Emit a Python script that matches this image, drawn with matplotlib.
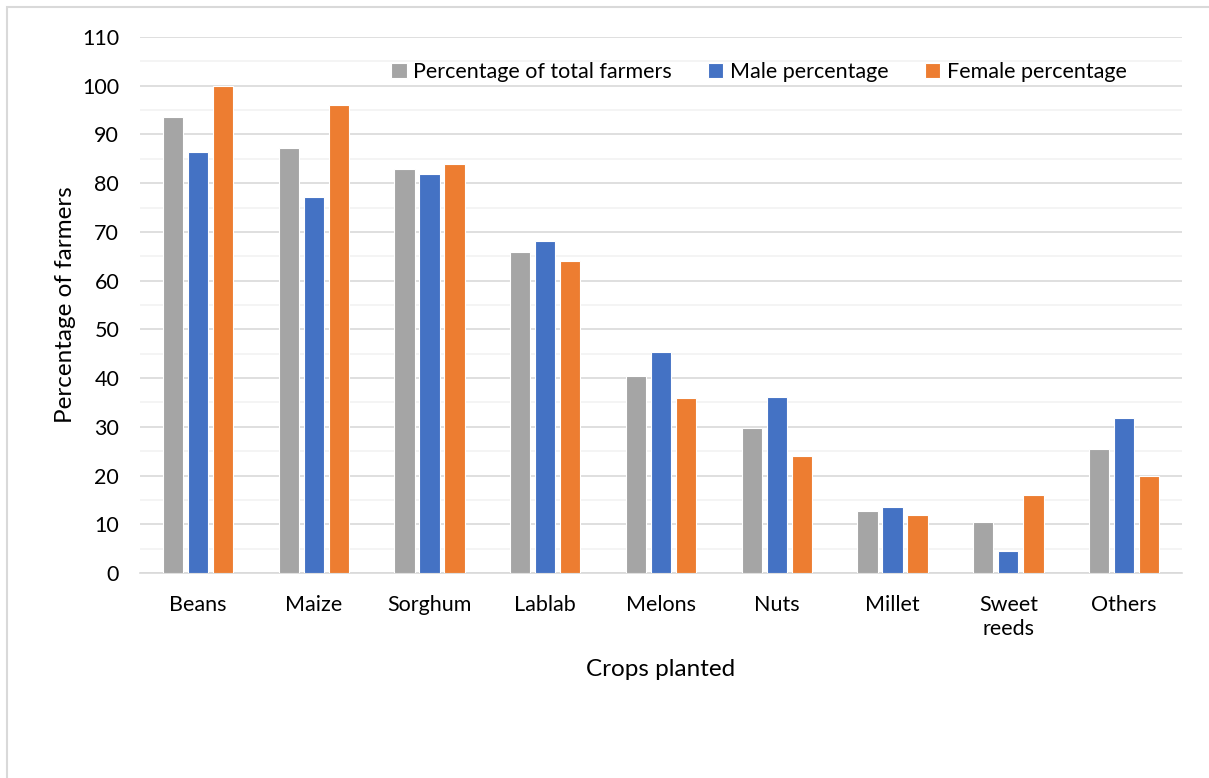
import numpy as np
import matplotlib.pyplot as plt
from matplotlib.patches import Rectangle

plt.rcParams['font.family'] = ['Lato', 'DejaVu Sans']

crops = ["Beans", "Maize", "Sorghum", "Lablab", "Melons", "Nuts", "Millet", "Sweet\nreeds", "Others"]
total_pct = [93.6, 87.2, 82.9, 65.9, 40.4, 29.8, 12.7, 10.5, 25.4]
male_pct = [86.4, 77.2, 81.9, 68.1, 45.4, 36.1, 13.5, 4.5, 31.8]
female_pct = [100, 96, 84, 64, 36, 24, 12, 16, 20]

series = [
    ("Percentage of total farmers", total_pct, "#a5a5a5"),
    ("Male percentage", male_pct, "#4472c4"),
    ("Female percentage", female_pct, "#ed7d31"),
]

fig = plt.figure(figsize=(12.09, 7.78), dpi=100)
ax = fig.add_axes([0.1158, 0.2635, 0.8619, 0.6889])

x = np.arange(len(crops))
width = 0.175
step = 0.216
for i, (name, vals, col) in enumerate(series):
    ax.bar(x + (i - 1) * step, vals, width, color=col, label=name,
           edgecolor="white", linewidth=0.8, zorder=3)

ax.set_xlim(-0.5, len(crops) - 0.5)
ax.set_ylim(0, 110)
ax.set_yticks(np.arange(0, 111, 10))
ax.set_yticks(np.arange(5, 110, 10), minor=True)
ax.grid(True, which="major", axis="y", color="#d9d9d9", linewidth=1.2, zorder=0)
ax.grid(True, which="minor", axis="y", color="#f2f2f2", linewidth=1.2, zorder=0)
for s in ["top", "right", "left"]:
    ax.spines[s].set_visible(False)
ax.spines["bottom"].set_color("#d9d9d9")
ax.spines["bottom"].set_linewidth(1.2)
ax.tick_params(axis="both", which="both", length=0, labelsize=15.5, colors="black")
ax.tick_params(axis="y", pad=15)
ax.tick_params(axis="x", pad=16)
ax.set_xticks(x)
ax.set_xticklabels(crops, linespacing=1.25)

ax.set_xlabel("Crops planted", fontsize=17.5, labelpad=14)
ax.set_ylabel("Percentage of farmers", fontsize=17.5, labelpad=4)

ax.legend(loc="upper center", bbox_to_anchor=(0.594, 0.99), ncol=3, frameon=False,
          fontsize=15.5, handlelength=0.7, handleheight=0.7, handletextpad=0.3,
          columnspacing=1.7)

# light frame round the figure
fig.patches.append(Rectangle((7 / 1209, -0.05), 1.1, 1 - 7 / 778 + 0.05,
                             transform=fig.transFigure, fill=False,
                             edgecolor="#d9d9d9", linewidth=1.5))

fig.savefig("out.png", dpi=100)
